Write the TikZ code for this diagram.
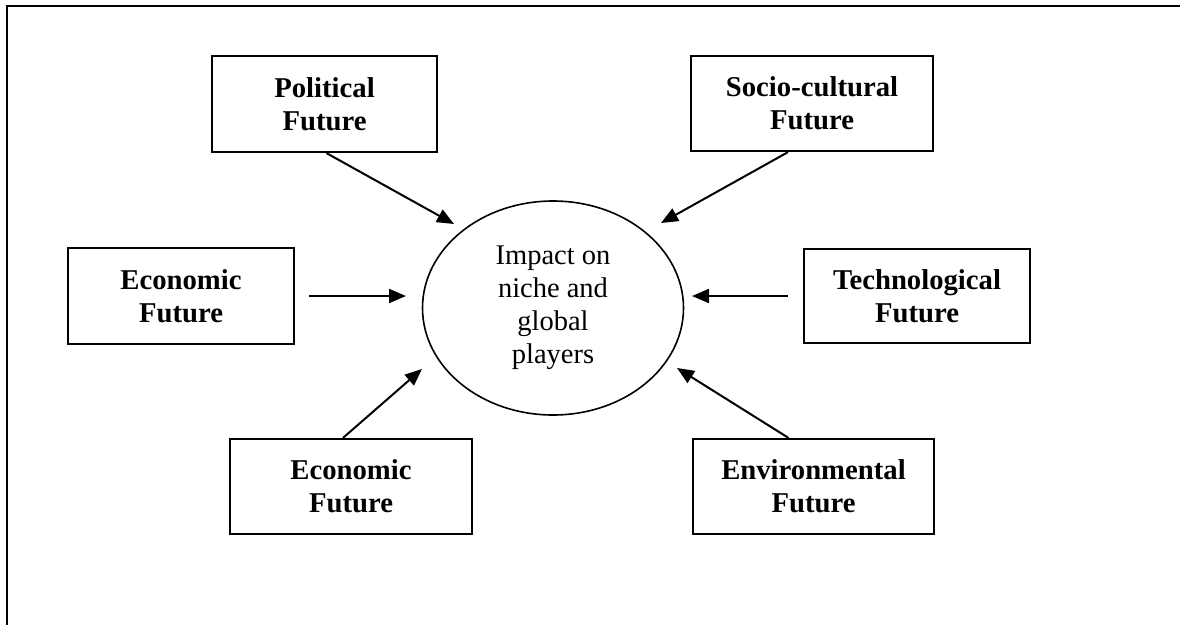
\documentclass[tikz,border=0pt]{standalone}
\usepackage{fontspec}
\setmainfont{Liberation Serif}
\usetikzlibrary{arrows.meta,shapes.geometric}
\begin{document}
\begin{tikzpicture}[x=1pt,y=-1pt,
  futurebox/.style={draw, line width=2.2pt, align=center, inner sep=0pt,
    font=\fontsize{28.7}{33}\selectfont\bfseries},
  hub/.style={draw, ellipse, line width=1.6pt, inner sep=0pt,
    minimum width=261pt, minimum height=214pt, align=center,
    font=\fontsize{28.5}{33}\selectfont},
  feed/.style={line width=2pt, -{Triangle[length=17pt,width=14pt]}},
  frame/.style={line width=2pt}]
\useasboundingbox (0,0) rectangle (1183,625);

% open frame: top and left edges only
\coordinate (fl) at (7,625);
\coordinate (ftl) at (7,6);
\coordinate (fr) at (1180,6);
\draw[frame] (fl) -- (ftl) -- (fr);

% central ellipse
\node[hub] (imp) at (553,308) {Impact on\\niche and\\global\\players};

% surrounding factor boxes
\node[futurebox, minimum width=225pt, minimum height=96pt] (pol) at (324.5,104) {Political\\Future};
\node[futurebox, minimum width=242pt, minimum height=95pt] (soc) at (812,103.5) {Socio-cultural\\Future};
\node[futurebox, minimum width=226pt, minimum height=96pt] (eco) at (181,296) {Economic\\Future};
\node[futurebox, minimum width=226pt, minimum height=94pt] (tec) at (917,296) {Technological\\Future};
\node[futurebox, minimum width=242pt, minimum height=95pt] (ecb) at (351,486.5) {Economic\\Future};
\node[futurebox, minimum width=241pt, minimum height=95pt] (env) at (813.5,486.5) {Environmental\\Future};

% arrow tips, just short of the ellipse
\coordinate (tpol) at (454,224);
\coordinate (tsoc) at (661,223);
\coordinate (teco) at (406,296);
\coordinate (ttec) at (692,296);
\coordinate (tecb) at (422,369);
\coordinate (tenv) at (677,368);

\draw[feed] ([xshift=2pt]pol.south) -- (tpol);
\draw[feed] ([xshift=-24pt]soc.south) -- (tsoc);
\draw[feed, shorten <=14pt] (eco.east) -- (teco);
\draw[feed, shorten <=15pt] (tec.west) -- (ttec);
\draw[feed] ([xshift=-8pt]ecb.north) -- (tecb);
\draw[feed] ([xshift=-25pt]env.north) -- (tenv);
\end{tikzpicture}
\end{document}
